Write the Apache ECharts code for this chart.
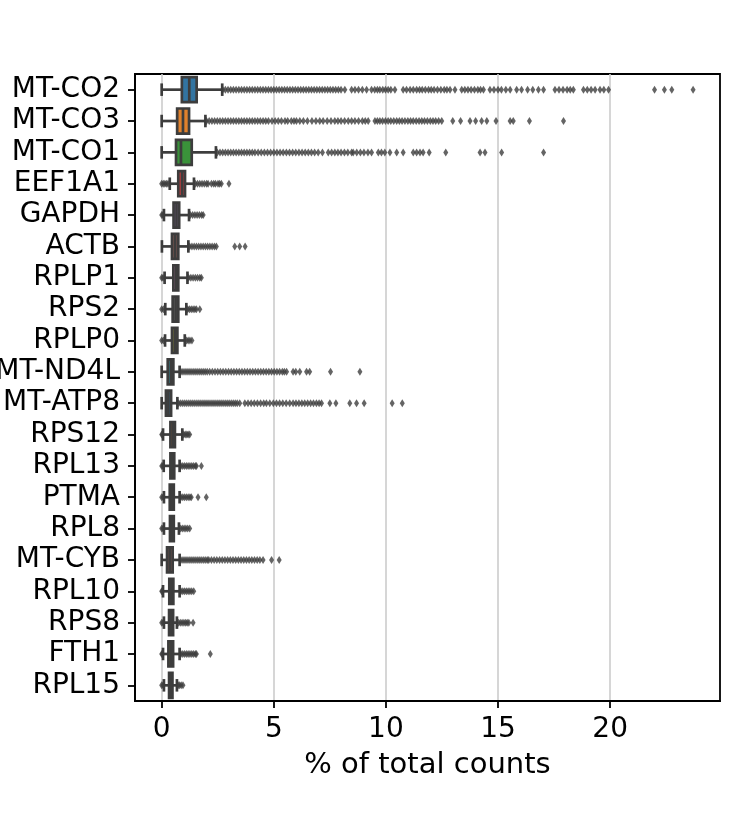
<!DOCTYPE html>
<html>
<head>
<meta charset="utf-8">
<script src="https://cdn.jsdelivr.net/npm/echarts@6/dist/echarts.min.js"></script>
<style>
  html, body { margin: 0; padding: 0; background: #fff; }
  #chart { width: 750px; height: 825px; }
</style>
</head>
<body>
<div id="chart"></div>
<script>
// genes, top to bottom
const genes = ['MT-CO2', 'MT-CO3', 'MT-CO1', 'EEF1A1', 'GAPDH', 'ACTB', 'RPLP1', 'RPS2', 'RPLP0', 'MT-ND4L',
  'MT-ATP8', 'RPS12', 'RPL13', 'PTMA', 'RPL8', 'MT-CYB', 'RPL10', 'RPS8', 'FTH1', 'RPL15'];

// box statistics (% of total counts)
const whiskerLo = [0, 0, 0, 0.36, 0.10, 0.01, 0.13, 0.16, 0.15, 0, 0, 0.06, 0.09, 0.10, 0.10, 0, 0.06, 0.10, 0.06, 0.10];
const q1 = [0.90, 0.69, 0.64, 0.74, 0.53, 0.46, 0.52, 0.49, 0.46, 0.27, 0.19, 0.39, 0.39, 0.36, 0.37, 0.24, 0.34, 0.33, 0.30, 0.33];
const median = [1.23, 0.95, 0.86, 0.91, 0.66, 0.60, 0.63, 0.62, 0.58, 0.40, 0.30, 0.49, 0.48, 0.45, 0.46, 0.36, 0.43, 0.42, 0.40, 0.41];
const q3 = [1.56, 1.22, 1.34, 1.04, 0.78, 0.74, 0.74, 0.74, 0.70, 0.52, 0.42, 0.59, 0.56, 0.54, 0.54, 0.49, 0.52, 0.51, 0.51, 0.48];
const whiskerHi = [2.70, 1.95, 2.42, 1.44, 1.22, 1.19, 1.15, 1.10, 1.03, 0.80, 0.70, 0.92, 0.80, 0.80, 0.77, 0.80, 0.80, 0.68, 0.80, 0.68];

// outlier points per gene
const fliers = [
  [2.72, 2.84, 2.96, 3.08, 3.2, 3.32, 3.44, 3.56, 3.68, 3.8, 3.92, 4.04, 4.16, 4.28, 4.4, 4.52, 4.64, 4.76, 4.88, 5.0,
   5.12, 5.24, 5.36, 5.48, 5.6, 5.72, 5.84, 5.96, 6.08, 6.2, 6.32, 6.44, 6.56, 6.68, 6.8, 6.92, 7.04, 7.16, 7.28, 7.4,
   7.52, 7.64, 7.76, 7.88, 8.0, 8.17, 8.47, 8.62, 8.78, 8.95, 9.14, 9.36, 9.5, 9.62, 9.73, 9.86, 9.98, 10.1, 10.22, 10.4,
   10.77, 10.92, 11.08, 11.22, 11.37, 11.5, 11.62, 11.76, 11.9, 12.02, 12.15, 12.3, 12.45, 12.6, 12.72, 12.86, 13.08,
   13.38, 13.52, 13.66, 13.8, 13.95, 14.1, 14.22, 14.35, 14.64, 14.82, 15.0, 15.15, 15.35, 15.54, 15.83, 16.05, 16.32,
   16.55, 16.8, 17.03, 17.54, 17.72, 17.9, 18.08, 18.22, 18.36, 18.81, 18.98, 19.15, 19.33, 19.55, 19.72, 19.93,
   21.98, 22.42, 22.75, 23.7],
  [2.0, 2.12, 2.24, 2.36, 2.48, 2.6, 2.72, 2.84, 2.96, 3.08, 3.2, 3.32, 3.44, 3.56, 3.68, 3.8, 3.92, 4.04, 4.16, 4.28,
   4.4, 4.52, 4.64, 4.76, 4.92, 5.06, 5.2, 5.34, 5.5, 5.62, 5.78, 5.9, 6.01, 6.16, 6.32, 6.5, 6.7, 6.88, 7.05, 7.2,
   7.38, 7.55, 7.72, 7.86, 8.0, 8.16, 8.32, 8.47, 8.62, 8.78, 8.95, 9.08, 9.21, 9.51, 9.62, 9.73, 9.85, 9.98, 10.1,
   10.22, 10.35, 10.48, 10.6, 10.72, 10.85, 10.98, 11.1, 11.22, 11.35, 11.48, 11.6, 11.72, 11.85, 11.98, 12.1, 12.22,
   12.35, 12.49, 12.98, 13.33, 13.75, 14.0, 14.27, 14.5, 14.91, 15.54, 15.68, 16.4, 17.92],
  [2.48, 2.6, 2.72, 2.84, 2.96, 3.08, 3.2, 3.32, 3.44, 3.56, 3.68, 3.8, 3.92, 4.04, 4.16, 4.3, 4.44, 4.58, 4.72, 4.86,
   5.0, 5.14, 5.28, 5.42, 5.56, 5.7, 5.84, 5.98, 6.12, 6.26, 6.4, 6.54, 6.68, 6.82, 6.98, 7.17, 7.43, 7.58, 7.72, 7.86,
   8.0, 8.15, 8.3, 8.47, 8.54, 8.7, 8.86, 9.02, 9.2, 9.36, 9.66, 9.8, 9.95, 10.18, 10.48, 10.77, 11.22, 11.37, 11.52,
   11.66, 11.93, 12.67, 14.2, 14.42, 15.16, 17.03],
  [0.0, 0.07, 0.14, 0.21, 0.28, 1.5, 1.6, 1.7, 1.8, 1.9, 2.0, 2.07, 2.22, 2.32, 2.4, 2.51, 2.58, 2.66, 3.0],
  [0.0, 0.05, 1.28, 1.38, 1.48, 1.58, 1.68, 1.78, 1.85],
  [1.25, 1.35, 1.45, 1.55, 1.65, 1.75, 1.85, 1.95, 2.05, 2.15, 2.25, 2.35, 2.44, 3.26, 3.48, 3.72],
  [0.0, 0.06, 1.2, 1.3, 1.4, 1.5, 1.6, 1.7, 1.77],
  [0.0, 0.08, 1.16, 1.24, 1.32, 1.4, 1.48, 1.55, 1.7],
  [0.0, 0.08, 1.1, 1.18, 1.26, 1.35],
  [0.86, 0.95, 1.04, 1.13, 1.22, 1.31, 1.4, 1.49, 1.58, 1.67, 1.76, 1.85, 1.94, 2.03, 2.14, 2.26, 2.38, 2.5, 2.62,
   2.74, 2.86, 2.98, 3.1, 3.22, 3.34, 3.46, 3.58, 3.7, 3.82, 3.94, 4.06, 4.18, 4.3, 4.42, 4.54, 4.66, 4.78, 4.9, 5.02,
   5.14, 5.26, 5.38, 5.47, 5.57, 5.86, 5.98, 6.16, 6.46, 6.6, 7.53, 8.84],
  [0.76, 0.85, 0.94, 1.03, 1.12, 1.21, 1.3, 1.39, 1.48, 1.57, 1.66, 1.75, 1.84, 1.93, 2.02, 2.11, 2.2, 2.29, 2.38,
   2.47, 2.56, 2.65, 2.74, 2.83, 2.92, 3.01, 3.1, 3.19, 3.28, 3.37, 3.48, 3.71, 3.85, 3.99, 4.13, 4.27, 4.41, 4.55,
   4.67, 4.82, 4.98, 5.12, 5.26, 5.4, 5.55, 5.71, 5.86, 5.99, 6.12, 6.25, 6.38, 6.51, 6.64, 6.77, 6.9, 7.02, 7.13,
   7.5, 7.77, 8.39, 8.69, 9.03, 10.28, 10.73],
  [0.0, 0.03, 0.98, 1.05, 1.12, 1.18, 1.25],
  [0.0, 0.05, 0.86, 0.94, 1.02, 1.1, 1.18, 1.26, 1.34, 1.42, 1.5, 1.55, 1.77],
  [0.0, 0.06, 0.86, 0.94, 1.02, 1.1, 1.18, 1.26, 1.32, 1.62, 1.99],
  [0.0, 0.06, 0.84, 0.92, 1.0, 1.08, 1.16, 1.25],
  [0.86, 0.95, 1.04, 1.13, 1.22, 1.31, 1.4, 1.49, 1.58, 1.67, 1.76, 1.85, 1.94, 2.03, 2.1, 2.22, 2.34, 2.46, 2.58,
   2.7, 2.82, 2.94, 3.06, 3.18, 3.3, 3.42, 3.54, 3.66, 3.78, 3.9, 4.02, 4.14, 4.26, 4.38, 4.52, 4.9, 5.24],
  [0.0, 0.03, 0.86, 0.94, 1.02, 1.1, 1.18, 1.26, 1.34, 1.43],
  [0.0, 0.06, 0.75, 0.83, 0.91, 0.99, 1.07, 1.14, 1.21, 1.4],
  [0.0, 0.03, 0.86, 0.94, 1.02, 1.1, 1.18, 1.26, 1.34, 1.42, 1.5, 1.55, 2.17],
  [0.0, 0.06, 0.74, 0.8, 0.87, 0.95]
];

const xTicks = [0, 5, 10, 15, 20];

// seaborn-ish desaturated tab10
const palette = ['#3274a1', '#e1812c', '#3a923a', '#c03d3e', '#9372b2', '#845b53', '#d684bd', '#7f7f7f', '#a9aa35', '#2ebdcc'];
const edge = '#3d3d3d';
const lw = 2.7;
const font = 'DejaVu Sans';

const boxData = genes.map((g, i) => [i, whiskerLo[i], q1[i], median[i], q3[i], whiskerHi[i]]);
const flierData = [];
fliers.forEach((list, i) => list.forEach(v => flierData.push([v, i])));

// draws one seaborn style box: whiskers, half-width caps, box, median
function renderBox(params, api) {
  const row = api.value(0);
  const lo = api.coord([api.value(1), row]);
  const b1 = api.coord([api.value(2), row]);
  const md = api.coord([api.value(3), row]);
  const b3 = api.coord([api.value(4), row]);
  const hi = api.coord([api.value(5), row]);
  const h = api.size([0, 1])[1] * 0.8;
  const y = lo[1];
  const st = { stroke: edge, lineWidth: lw };
  return {
    type: 'group',
    children: [
      { type: 'line', shape: { x1: lo[0], y1: y, x2: b1[0], y2: y }, style: st },
      { type: 'line', shape: { x1: b3[0], y1: y, x2: hi[0], y2: y }, style: st },
      { type: 'line', shape: { x1: lo[0], y1: y - h / 4, x2: lo[0], y2: y + h / 4 }, style: st },
      { type: 'line', shape: { x1: hi[0], y1: y - h / 4, x2: hi[0], y2: y + h / 4 }, style: st },
      { type: 'rect', shape: { x: b1[0], y: y - h / 2, width: b3[0] - b1[0], height: h },
        style: { fill: palette[row % 10], stroke: edge, lineWidth: lw } },
      { type: 'line', shape: { x1: md[0], y1: y - h / 2, x2: md[0], y2: y + h / 2 }, style: st }
    ]
  };
}

const chart = echarts.init(document.getElementById('chart'), null, { renderer: 'canvas' });

chart.setOption({
  animation: false,
  textStyle: { fontFamily: font },
  grid: {
    left: 135, right: 30, top: 74, bottom: 124,
    outerBoundsMode: 'none',
    containLabel: false,
    show: true, borderColor: '#000', borderWidth: 1.8, backgroundColor: 'transparent'
  },
  xAxis: {
    type: 'value',
    min: -1.19,
    max: 24.9,
    name: '% of total counts',
    nameLocation: 'middle',
    nameGap: 50,
    nameTextStyle: { fontSize: 29, color: '#000', fontFamily: font },
    axisLine: { show: true, onZero: false, lineStyle: { color: '#000', width: 1.8 } },
    axisTick: { show: true, length: 7, lineStyle: { color: '#000', width: 1.8 }, customValues: xTicks },
    axisLabel: { fontSize: 28, color: '#000', margin: 15, fontFamily: font, customValues: xTicks },
    splitLine: { show: true, lineStyle: { color: '#cccccc', width: 1.6 } }
  },
  yAxis: {
    type: 'category',
    data: genes,
    inverse: true,
    axisLine: { show: true, onZero: false, lineStyle: { color: '#000', width: 1.8 } },
    axisTick: { show: true, alignWithLabel: true, length: 7, lineStyle: { color: '#000', width: 1.8 } },
    axisLabel: { fontSize: 28, color: '#000', margin: 15, fontFamily: font, interval: 0 },
    splitLine: { show: false }
  },
  series: [
    {
      type: 'custom',
      renderItem: renderBox,
      encode: { x: [1, 2, 3, 4, 5], y: 0 },
      data: boxData,
      silent: true
    },
    {
      type: 'scatter',
      data: flierData,
      symbol: 'diamond',
      symbolSize: [5, 8],
      itemStyle: { color: edge },
      silent: true
    }
  ]
});
</script>
</body>
</html>
